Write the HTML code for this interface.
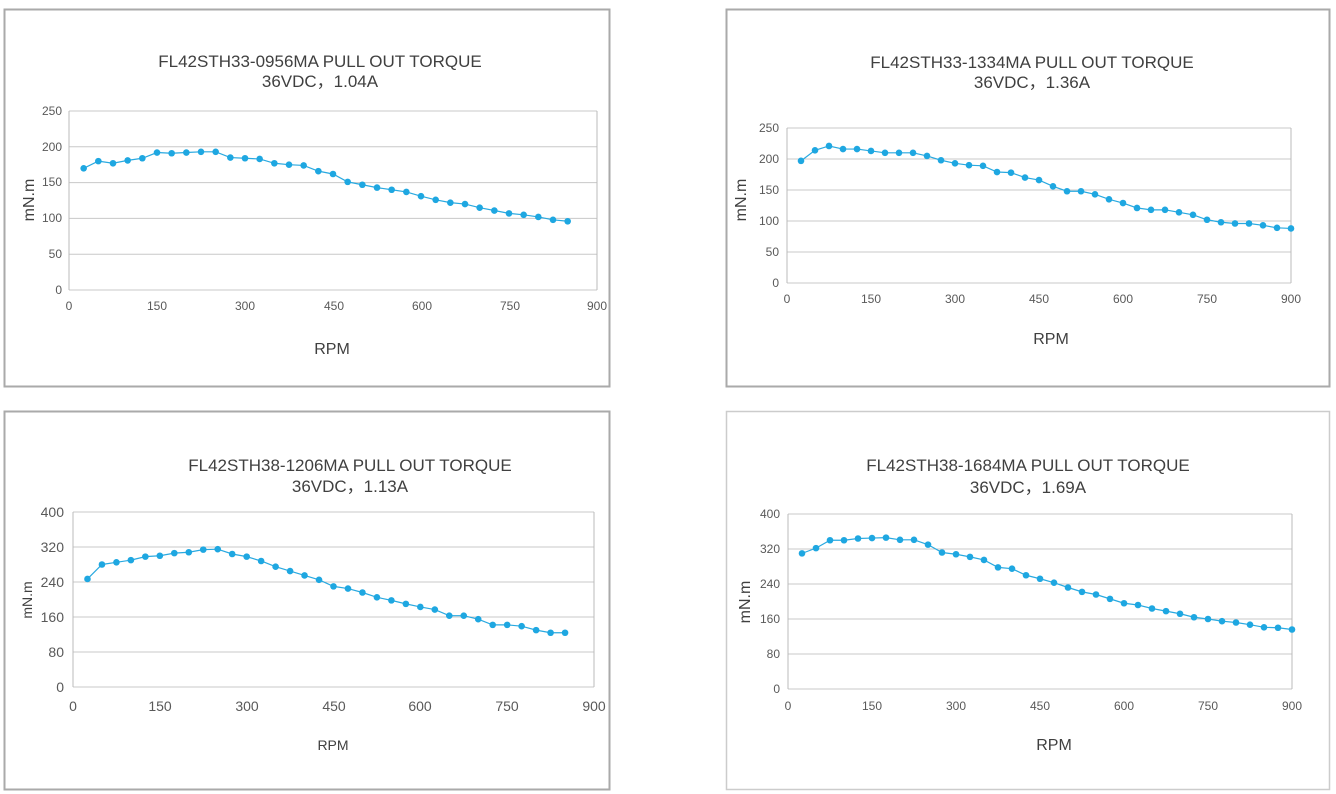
<!DOCTYPE html>
<html><head><meta charset="utf-8"><style>
html,body{margin:0;padding:0;background:#fff;}
svg{display:block;font-family:"Liberation Sans","Noto Sans CJK SC",sans-serif;}
.t{font-size:17px;fill:#404040;text-anchor:middle;}
.k{font-size:12px;fill:#595959;}
.ax{font-size:16px;fill:#404040;text-anchor:middle;}
</style></head><body>
<svg id="s" width="1336" height="794" viewBox="0 0 1336 794">
<rect x="0" y="0" width="1336" height="794" fill="#fff"/>
<rect x="4.5" y="9.5" width="605" height="377" fill="none" stroke="#aaa" stroke-width="2"/>
<rect x="726.5" y="9.5" width="603" height="377" fill="none" stroke="#aaa" stroke-width="2"/>
<rect x="4.5" y="411.5" width="605" height="378" fill="none" stroke="#aaa" stroke-width="2"/>
<rect x="726.5" y="411.5" width="603" height="378" fill="none" stroke="#ccc" stroke-width="1.5"/>
<text class="t" x="320" y="67">FL42STH33-0956MA PULL OUT TORQUE</text>
<text class="t" x="320" y="87">36VDC，1.04A</text>
<text class="t" x="1032" y="68">FL42STH33-1334MA PULL OUT TORQUE</text>
<text class="t" x="1032" y="88">36VDC，1.36A</text>
<text class="t" x="350" y="471">FL42STH38-1206MA PULL OUT TORQUE</text>
<text class="t" x="350" y="492">36VDC，1.13A</text>
<text class="t" x="1028" y="471">FL42STH38-1684MA  PULL OUT TORQUE</text>
<text class="t" x="1028" y="493">36VDC，1.69A</text>
<text class="ax" x="332" y="354">RPM</text>
<text class="ax" x="1051" y="344">RPM</text>
<text class="ax" x="333" y="750" style="font-size:14px">RPM</text>
<text class="ax" x="1054" y="750">RPM</text>
<text class="ax" transform="translate(34,200) rotate(-90)">mN.m</text>
<text class="ax" transform="translate(746,200) rotate(-90)">mN.m</text>
<text class="ax" style="font-size:14px" transform="translate(32,600) rotate(-90)">mN.m</text>
<text class="ax" transform="translate(750,602) rotate(-90)">mN.m</text>
<g class="k" text-anchor="end">
<text x="62" y="115">250</text><text x="62" y="151">200</text><text x="62" y="186">150</text><text x="62" y="222">100</text><text x="62" y="258">50</text><text x="62" y="294">0</text>
<text x="779" y="132">250</text><text x="779" y="163">200</text><text x="779" y="194">150</text><text x="779" y="225">100</text><text x="779" y="256">50</text><text x="779" y="287">0</text>
<text x="64" y="517" style="font-size:14px">400</text><text x="64" y="552" style="font-size:14px">320</text><text x="64" y="587" style="font-size:14px">240</text><text x="64" y="622" style="font-size:14px">160</text><text x="64" y="657" style="font-size:14px">80</text><text x="64" y="692" style="font-size:14px">0</text>
<text x="780" y="518">400</text><text x="780" y="553">320</text><text x="780" y="588">240</text><text x="780" y="623">160</text><text x="780" y="658">80</text><text x="780" y="693">0</text>
</g>
<g class="k" text-anchor="middle">
<text x="69" y="310">0</text><text x="157" y="310">150</text><text x="245" y="310">300</text><text x="334" y="310">450</text><text x="422" y="310">600</text><text x="510" y="310">750</text><text x="597" y="310">900</text>
<text x="787" y="303">0</text><text x="871" y="303">150</text><text x="955" y="303">300</text><text x="1039" y="303">450</text><text x="1123" y="303">600</text><text x="1207" y="303">750</text><text x="1291" y="303">900</text>
<g style="font-size:14px"><text x="73" y="711">0</text><text x="160" y="711">150</text><text x="247" y="711">300</text><text x="334" y="711">450</text><text x="420" y="711">600</text><text x="507" y="711">750</text><text x="594" y="711">900</text></g>
<text x="788" y="710">0</text><text x="872" y="710">150</text><text x="956" y="710">300</text><text x="1040" y="710">450</text><text x="1124" y="710">600</text><text x="1208" y="710">750</text><text x="1292" y="710">900</text>
</g>
<g id="plots"></g>
</svg>
<script>
var charts=[
 {x0:69,x1:597,y0:290,y1:111,max:250,step:50,vals:[170,180,177,181,184,192,191,192,193,193,185,184,183,177,175,174,166,162,151,147,143,140,137,131,126,122,120,115,111,107,105,102,98,96]},
 {x0:787,x1:1291,y0:283,y1:128,max:250,step:50,vals:[197,214,221,216,216,213,210,210,210,205,198,193,190,189,179,178,170,166,156,148,148,143,135,129,121,118,118,114,110,102,98,96,96,93,89,88]},
 {x0:73,x1:594,y0:687,y1:512,max:400,step:80,vals:[247,280,285,290,298,300,306,308,314,315,304,298,288,275,265,255,245,230,225,216,205,198,190,183,177,163,163,155,142,142,139,130,124,124]},
 {x0:788,x1:1292,y0:689,y1:514,max:400,step:80,vals:[310,322,340,340,344,345,346,341,341,330,312,308,302,295,278,275,260,252,243,232,222,216,206,196,192,184,178,172,164,160,155,152,147,141,140,136]}
];
var g=document.getElementById('plots'),h='';
charts.forEach(function(c){
 for(var v=0;v<=c.max;v+=c.step){var y=c.y0+(c.y1-c.y0)*v/c.max;
  h+='<line x1="'+c.x0+'" x2="'+c.x1+'" y1="'+y+'" y2="'+y+'" stroke="#c8c8c8" stroke-width="1"/>';}
 h+='<line x1="'+c.x0+'" x2="'+c.x0+'" y1="'+c.y1+'" y2="'+c.y0+'" stroke="#bbb"/>';
 h+='<line x1="'+c.x1+'" x2="'+c.x1+'" y1="'+c.y1+'" y2="'+c.y0+'" stroke="#bbb"/>';
 var pts=[];
 c.vals.forEach(function(v,i){var r=25*(i+1);pts.push([c.x0+(c.x1-c.x0)*r/900,c.y0+(c.y1-c.y0)*v/c.max]);});
 h+='<polyline fill="none" stroke="#29a9e0" stroke-width="1.2" points="'+pts.map(function(p){return p.join(',')}).join(' ')+'"/>';
 pts.forEach(function(p){h+='<circle cx="'+p[0]+'" cy="'+p[1]+'" r="3.3" fill="#1ea7e1"/>';});
});
g.innerHTML=h;
</script>
</body></html>
